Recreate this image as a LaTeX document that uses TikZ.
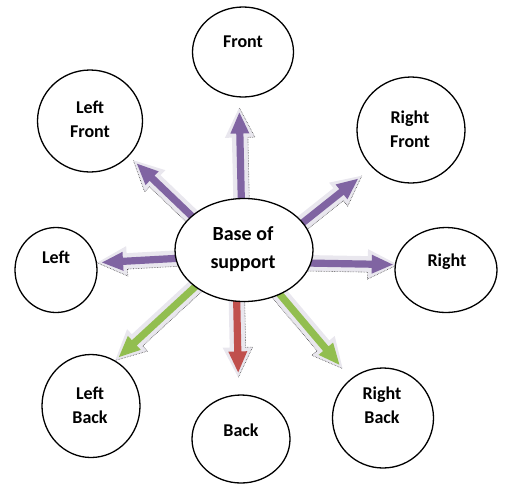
\documentclass[tikz,border=0pt]{standalone}
\usepackage{fontspec}
\setmainfont{Carlito}
\usetikzlibrary{calc,backgrounds,shapes.geometric}

\definecolor{purp}{HTML}{8064A2}
\definecolor{grn}{HTML}{92BE50}
\definecolor{rd}{HTML}{C0504D}
\definecolor{halocol}{HTML}{E9E7EE}

\tikzset{
  bubble/.style={ellipse, draw=black, line width=1.3pt, fill=white, inner sep=0pt},
  lbl/.style={font=\bfseries\fontsize{18}{24}\selectfont, align=center, inner sep=0pt},
  baselbl/.style={font=\bfseries\fontsize{20}{28}\selectfont, align=center, inner sep=0pt},
  halo/.style={fill=halocol},
  shadowline/.style={draw=black!70, line width=0.6pt, densely dotted},
}

% Block arrow from #1 towards #2, stopping #3 short of it, filled with #4;
% #5 (90 or -90) picks the side that carries the dotted shadow edge.
\newcommand\dirarrow[5]{%
  \coordinate (s) at ($(#1)!-6pt!(#2)$);
  \coordinate (t) at ($(#2)!#3!(#1)$);
  \coordinate (n) at ($(t)!21pt!(s)$);
  \coordinate (hn) at ($(t)!25pt!(s)$);
  \coordinate (ht) at ($(t)!-5pt!(s)$);
  \fill[halo] ($(s)!8pt!90:(t)$) -- ($(hn)!8pt!90:(t)$) -- ($(hn)!15pt!90:(t)$) -- (ht)
     -- ($(hn)!15pt!-90:(t)$) -- ($(hn)!8pt!-90:(t)$) -- ($(s)!8pt!-90:(t)$) -- cycle;
  \draw[shadowline] ($(s)!8pt!#5:(t)$) -- ($(hn)!8pt!#5:(t)$) -- ($(hn)!15pt!#5:(t)$) -- (ht);
  \fill[#4] ($(s)!3.6pt!90:(t)$) -- ($(n)!3.6pt!90:(t)$) -- ($(n)!9.5pt!90:(t)$) -- (t)
     -- ($(n)!9.5pt!-90:(t)$) -- ($(n)!3.6pt!-90:(t)$) -- ($(s)!3.6pt!-90:(t)$) -- cycle;
}

\begin{document}
\begin{tikzpicture}[x=1pt, y=-1pt]
  \useasboundingbox (0,0) rectangle (506,483);

  % outer bubbles
  \node[bubble, minimum width=101pt, minimum height=90pt]  (front) at (243,52)  {};
  \node[bubble, minimum width=105pt, minimum height=102pt] (lf)    at (90,121)  {};
  \node[bubble, minimum width=108pt, minimum height=106pt] (rf)    at (411,130) {};
  \node[bubble, minimum width=82pt,  minimum height=85pt]  (left)  at (56,270)  {};
  \node[bubble, minimum width=102pt, minimum height=85pt]  (right) at (446,270) {};
  \node[bubble, minimum width=98pt,  minimum height=103pt] (lb)    at (91,406)  {};
  \node[bubble, minimum width=98pt,  minimum height=88pt]  (back)  at (241,439) {};
  \node[bubble, minimum width=101pt, minimum height=100pt] (rb)    at (383,418) {};
  % centre bubble
  \node[bubble, minimum width=138pt, minimum height=103pt] (base)  at (244,250) {};

  % labels
  \node[lbl] (front-t) at (243,42)  {Front};
  \node[lbl] (lf-t)    at (90,119)  {Left\\Front};
  \node[lbl] (rf-t)    at (410,129) {Right\\Front};
  \node[lbl] (left-t)  at (56,257)  {Left};
  \node[lbl] (right-t) at (447,262) {Right};
  \node[lbl] (lb-t)    at (90,405)  {Left\\Back};
  \node[lbl] (back-t)  at (241,430) {Back};
  \node[lbl] (rb-t)    at (382,405) {Right\\Back};
  \node[baselbl] (base-t) at (243,249) {Base of\\support};

  % direction arrows, behind the bubbles
  \begin{pgfonlayer}{background}
    \dirarrow{base.93}{front.-95}{15pt}{purp}{-90}
    \dirarrow{base.147}{lf.-42}{11pt}{purp}{90}
    \dirarrow{base.25}{rf.-136}{18pt}{purp}{-90}
    \dirarrow{base.187}{left.10}{5pt}{purp}{90}
    \dirarrow{base.-11}{right.174}{2pt}{purp}{-90}
    \dirarrow{base.217}{lb.62}{5pt}{grn}{90}
    \dirarrow{base.262}{back.93}{22pt}{rd}{90}
    \dirarrow{base.-51}{rb.129}{18pt}{grn}{-90}
  \end{pgfonlayer}
\end{tikzpicture}
\end{document}
